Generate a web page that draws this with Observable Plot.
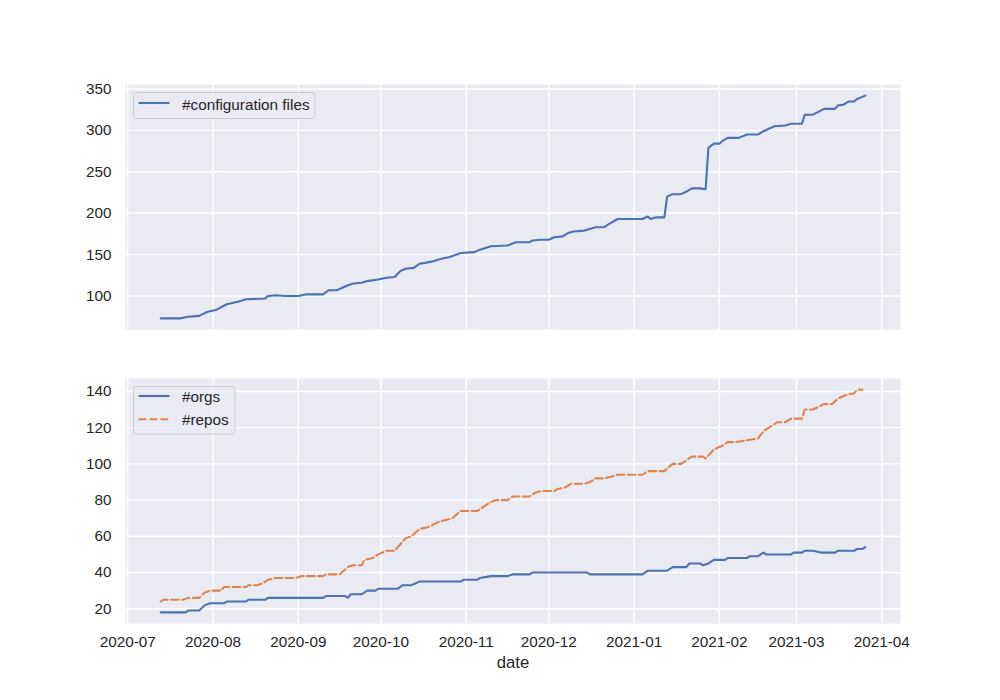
<!DOCTYPE html>
<html>
<head>
<meta charset="utf-8">
<script src="https://cdn.jsdelivr.net/npm/d3@7"></script>
<script src="https://cdn.jsdelivr.net/npm/@observablehq/plot@0.6"></script>
<style>
  body { margin: 0; background: #ffffff; }
  #chart { position: relative; width: 1000px; height: 700px; font-family: "Liberation Sans", Arial, sans-serif; color: #262626; }
  #chart > svg.plot, #chart > svg { position: absolute; left: 0; display: block; }
  #legends { position: absolute; left: 0; top: 0; pointer-events: none; }
</style>
</head>
<body>
<div id="chart"></div>
<script>
// ---- data ----
const configDates = ["2020-07-13","2020-07-20","2020-07-23","2020-07-27","2020-07-30","2020-08-02","2020-08-06","2020-08-10","2020-08-13","2020-08-20","2020-08-21","2020-08-24","2020-08-27","2020-09-01","2020-09-04","2020-09-10","2020-09-12","2020-09-15","2020-09-17","2020-09-19","2020-09-21","2020-09-24","2020-09-26","2020-09-30","2020-10-03","2020-10-06","2020-10-08","2020-10-10","2020-10-13","2020-10-15","2020-10-17","2020-10-20","2020-10-23","2020-10-26","2020-10-30","2020-11-04","2020-11-06","2020-11-10","2020-11-16","2020-11-19","2020-11-24","2020-11-25","2020-11-28","2020-12-01","2020-12-03","2020-12-06","2020-12-08","2020-12-10","2020-12-14","2020-12-18","2020-12-21","2020-12-23","2020-12-26","2021-01-04","2021-01-06","2021-01-07","2021-01-09","2021-01-12","2021-01-13","2021-01-15","2021-01-18","2021-01-20","2021-01-22","2021-01-25","2021-01-27","2021-01-28","2021-01-30","2021-02-01","2021-02-02","2021-02-04","2021-02-08","2021-02-11","2021-02-15","2021-02-17","2021-02-21","2021-02-25","2021-02-27","2021-03-03","2021-03-04","2021-03-07","2021-03-11","2021-03-15","2021-03-16","2021-03-18","2021-03-20","2021-03-22","2021-03-23","2021-03-26"];
const configFiles = [73,73,75,76,81,83,90,93,96,97,100,101,100,100,102,102,107,107,110,113,115,116,118,120,122,123,130,133,134,139,140,142,145,147,152,153,156,160,161,165,165,167,168,168,171,172,176,178,179,183,183,187,193,193,196,193,195,195,220,223,223,226,230,230,229,279,284,284,287,291,291,295,295,299,305,306,308,308,319,319,326,326,330,331,335,335,338,342];

const orgDates = ["2020-07-13","2020-07-22","2020-07-23","2020-07-27","2020-07-29","2020-07-31","2020-08-05","2020-08-06","2020-08-13","2020-08-14","2020-08-20","2020-08-21","2020-09-10","2020-09-11","2020-09-18","2020-09-19","2020-09-20","2020-09-24","2020-09-26","2020-09-29","2020-09-30","2020-10-07","2020-10-09","2020-10-12","2020-10-15","2020-10-30","2020-10-31","2020-11-05","2020-11-06","2020-11-10","2020-11-16","2020-11-18","2020-11-24","2020-11-25","2020-12-15","2020-12-16","2021-01-04","2021-01-06","2021-01-13","2021-01-15","2021-01-20","2021-01-21","2021-01-25","2021-01-26","2021-01-28","2021-01-30","2021-02-03","2021-02-04","2021-02-11","2021-02-12","2021-02-15","2021-02-17","2021-02-18","2021-02-27","2021-02-28","2021-03-03","2021-03-04","2021-03-07","2021-03-10","2021-03-15","2021-03-16","2021-03-22","2021-03-23","2021-03-25","2021-03-26"];
const orgs = [18,18,19,19,22,23,23,24,24,25,25,26,26,27,27,26,28,28,30,30,31,31,33,33,35,35,36,36,37,38,38,39,39,40,40,39,39,41,41,43,43,45,45,44,45,47,47,48,48,49,49,51,50,50,51,51,52,52,51,51,52,52,53,53,54];

const repoDates = ["2020-07-13","2020-07-14","2020-07-21","2020-07-23","2020-07-27","2020-07-29","2020-07-31","2020-08-04","2020-08-05","2020-08-13","2020-08-14","2020-08-17","2020-08-19","2020-08-21","2020-08-24","2020-08-31","2020-09-02","2020-09-10","2020-09-11","2020-09-16","2020-09-19","2020-09-21","2020-09-24","2020-09-25","2020-09-28","2020-09-30","2020-10-03","2020-10-06","2020-10-10","2020-10-12","2020-10-15","2020-10-18","2020-10-22","2020-10-27","2020-10-30","2020-11-05","2020-11-10","2020-11-12","2020-11-16","2020-11-18","2020-11-24","2020-11-26","2020-11-28","2020-12-03","2020-12-04","2020-12-07","2020-12-09","2020-12-14","2020-12-16","2020-12-18","2020-12-21","2020-12-24","2020-12-26","2021-01-04","2021-01-06","2021-01-12","2021-01-15","2021-01-18","2021-01-20","2021-01-22","2021-01-26","2021-01-27","2021-01-30","2021-02-02","2021-02-04","2021-02-07","2021-02-11","2021-02-15","2021-02-17","2021-02-21","2021-02-22","2021-02-25","2021-02-27","2021-03-03","2021-03-04","2021-03-07","2021-03-11","2021-03-14","2021-03-16","2021-03-19","2021-03-22","2021-03-23","2021-03-25"];
const repos = [24,25,25,26,26,29,30,30,32,32,33,33,34,36,37,37,38,38,39,39,43,44,44,47,48,50,52,52,59,60,64,65,68,70,74,74,79,80,80,82,82,84,85,85,86,87,89,89,90,92,92,93,94,94,96,96,100,100,102,104,104,103,108,110,112,112,113,114,118,122,123,123,125,125,130,130,133,133,136,138,139,141,141];

const yTicksTop = [100, 150, 200, 250, 300, 350];
const yTicksBottom = [20, 40, 60, 80, 100, 120, 140];
const xTickDates = ["2020-07-01","2020-08-01","2020-09-01","2020-10-01","2020-11-01","2020-12-01","2021-01-01","2021-02-01","2021-03-01","2021-04-01"];
const seriesNames = ["#configuration files", "#orgs", "#repos"];
const seriesColors = ["#4c72b0", "#4c72b0", "#dd8452"];

// ---- build tables ----
const parse = d3.utcParse("%Y-%m-%d");
const configData = configDates.map((d, i) => ({date: parse(d), value: configFiles[i]}));
const orgData = orgDates.map((d, i) => ({date: parse(d), value: orgs[i]}));
const repoData = repoDates.map((d, i) => ({date: parse(d), value: repos[i]}));
const xTicks = xTickDates.map(parse);

function pad(ext) { const s = ext[1] - ext[0]; return [ext[0] - 0.05 * s, ext[1] + 0.05 * s]; }
const allDates = [...configData, ...orgData, ...repoData].map(d => +d.date);
const xd = pad(d3.extent(allDates));
const xDomain = [new Date(xd[0]), new Date(xd[1])];
const yDomainTop = pad(d3.extent(configFiles));
const yDomainBottom = pad(d3.extent([...orgs, ...repos]));

const font = '"Liberation Sans", Arial, sans-serif';
const gridStyle = {stroke: "#ffffff", strokeOpacity: 1, strokeWidth: 1.4};
const lw = 2.08;

const topPlot = Plot.plot({
  width: 1000, height: 350,
  marginLeft: 125, marginRight: 100, marginTop: 84, marginBottom: 21,
  style: {fontFamily: font, fontSize: "15.3px", color: "#262626", background: "transparent", overflow: "visible"},
  x: {type: "utc", domain: xDomain, label: null, axis: null},
  y: {domain: yDomainTop, label: null},
  marks: [
    Plot.frame({fill: "#eaeaf2", stroke: null}),
    Plot.gridX(xTicks, gridStyle),
    Plot.gridY(yTicksTop, gridStyle),
    Plot.axisY(yTicksTop, {tickSize: 0, tickPadding: 14, fill: "#262626", label: null}),
    Plot.line(configData, {x: "date", y: "value", stroke: seriesColors[0], strokeWidth: lw})
  ]
});
topPlot.style.top = "0px";

const bottomPlot = Plot.plot({
  width: 1000, height: 350,
  marginLeft: 125, marginRight: 100, marginTop: 28, marginBottom: 77,
  style: {fontFamily: font, fontSize: "15.3px", color: "#262626", background: "transparent", overflow: "visible"},
  x: {type: "utc", domain: xDomain, label: null},
  y: {domain: yDomainBottom, label: null},
  marks: [
    Plot.frame({fill: "#eaeaf2", stroke: null}),
    Plot.gridX(xTicks, gridStyle),
    Plot.gridY(yTicksBottom, gridStyle),
    Plot.axisY(yTicksBottom, {tickSize: 0, tickPadding: 14, fill: "#262626", label: null}),
    Plot.axisX(xTicks, {tickSize: 0, tickPadding: 13, tickFormat: d3.utcFormat("%Y-%m"), fill: "#262626", label: null}),
    Plot.text(["date"], {text: d => d, frameAnchor: "bottom", dy: 39, lineAnchor: "middle", fontSize: 16.7, fill: "#262626"}),
    Plot.line(orgData, {x: "date", y: "value", stroke: seriesColors[1], strokeWidth: lw}),
    Plot.line(repoData, {x: "date", y: "value", stroke: seriesColors[2], strokeWidth: lw, strokeDasharray: "7.7,3.3"})
  ]
});
bottomPlot.style.top = "350px";

const chart = document.getElementById("chart");
chart.appendChild(topPlot);
chart.appendChild(bottomPlot);

// ---- legends (overlay) ----
const ns = "http://www.w3.org/2000/svg";
const leg = document.createElementNS(ns, "svg");
leg.setAttribute("id", "legends");
leg.setAttribute("width", 1000);
leg.setAttribute("height", 700);
function el(tag, attrs, parent) {
  const e = document.createElementNS(ns, tag);
  for (const k in attrs) e.setAttribute(k, attrs[k]);
  parent.appendChild(e);
  return e;
}
function legend(x, y, w, h, items) {
  el("rect", {x, y, width: w, height: h, rx: 3, ry: 3, fill: "rgba(234,234,242,0.8)", stroke: "#cccccc", "stroke-width": 1}, leg);
  for (const it of items) {
    el("line", {x1: x + 5, x2: x + 36, y1: it.ly, y2: it.ly, stroke: it.color, "stroke-width": lw, "stroke-dasharray": it.dash || "none"}, leg);
    const t = el("text", {x: x + 48.5, y: it.ty, fill: "#262626", "font-size": "15.3px", "font-family": font}, leg);
    t.textContent = it.name;
  }
}
legend(133.5, 92.5, 181.5, 26, [{name: seriesNames[0], color: seriesColors[0], ly: 103, ty: 109.5}]);
legend(133.5, 386.5, 101.5, 47.5, [
  {name: seriesNames[1], color: seriesColors[1], ly: 396, ty: 401.8},
  {name: seriesNames[2], color: seriesColors[2], ly: 419.3, ty: 425, dash: "7.7,3.3"}
]);
chart.appendChild(leg);
</script>
</body>
</html>
